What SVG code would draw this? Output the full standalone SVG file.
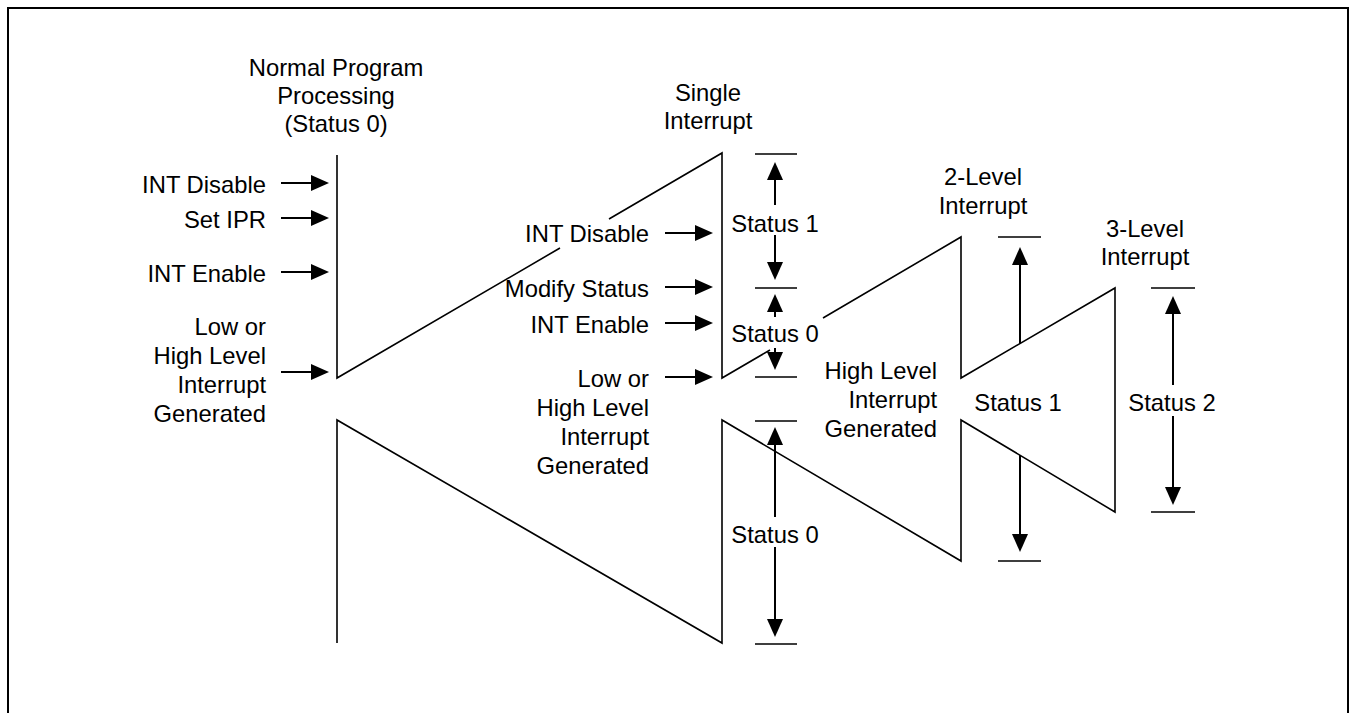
<svg xmlns="http://www.w3.org/2000/svg" width="1351" height="713" viewBox="0 0 1351 713">
<style>
.t{font-family:"Liberation Sans",Arial,sans-serif;font-size:23.8px;fill:#000}
.e{text-anchor:end}
.m{text-anchor:middle}
.w{fill:none;stroke:#000;stroke-width:1.6}
.a{fill:none;stroke:#000;stroke-width:2;marker-end:url(#ah)}
.b{stroke:#000;stroke-width:1.6}
</style>
<defs>
<marker id="ah" viewBox="0 0 18 16" refX="14" refY="8" markerWidth="18" markerHeight="16" markerUnits="userSpaceOnUse" orient="auto">
<path d="M0,0 L18,8 L0,16 Z" fill="#000"/>
</marker>
</defs>
<rect width="1351" height="713" fill="#fff"/>
<rect x="8" y="8" width="1340" height="720" fill="none" stroke="#000" stroke-width="2"/>

<g id="waveform-upper">
<path class="w" d="M337,155 V378 L560,248 M609,219 L722,153 V378 L770,350 M823,318 L961,237 V378 L1115,288 V512 L961,420 V561 L722,420 V643 L337,420 V643"/>
</g>

<g id="title-normal"><text class="t m" x="336" y="76">Normal Program</text><text class="t m" x="336" y="104">Processing</text><text class="t m" x="336" y="132">(Status 0)</text></g>
<g id="title-single"><text class="t m" x="708" y="101">Single</text><text class="t m" x="708" y="129">Interrupt</text></g>
<g id="title-2level"><text class="t m" x="983" y="185">2-Level</text><text class="t m" x="983" y="214">Interrupt</text></g>
<g id="title-3level"><text class="t m" x="1145" y="237">3-Level</text><text class="t m" x="1145" y="265">Interrupt</text></g>

<g id="labels-left">
<text class="t e" x="266" y="193">INT Disable</text>
<text class="t e" x="266" y="228">Set IPR</text>
<text class="t e" x="266" y="282">INT Enable</text>
<text class="t e" x="266" y="335">Low or</text>
<text class="t e" x="266" y="364">High Level</text>
<text class="t e" x="266" y="393">Interrupt</text>
<text class="t e" x="266" y="422">Generated</text>
</g>
<g id="labels-single">
<text class="t e" x="649" y="242">INT Disable</text>
<text class="t e" x="649" y="297">Modify Status</text>
<text class="t e" x="649" y="333">INT Enable</text>
<text class="t e" x="649" y="387">Low or</text>
<text class="t e" x="649" y="416">High Level</text>
<text class="t e" x="649" y="445">Interrupt</text>
<text class="t e" x="649" y="474">Generated</text>
</g>
<g id="labels-high">
<text class="t e" x="937" y="379">High Level</text>
<text class="t e" x="937" y="408">Interrupt</text>
<text class="t e" x="937" y="437">Generated</text>
</g>
<g id="status-labels">
<text class="t m" x="775" y="232">Status 1</text>
<text class="t m" x="775" y="342">Status 0</text>
<text class="t m" x="775" y="543">Status 0</text>
<text class="t m" x="1018" y="411">Status 1</text>
<text class="t m" x="1172" y="411">Status 2</text>
</g>

<g id="bars">
<path class="b" d="M755,154 H797 M755,288 H797 M755,377 H797 M755,421 H797 M755,644 H797 M998,237 H1041 M998,561 H1041 M1151,288 H1195 M1151,512 H1195"/>
</g>

<g id="connectors">
<line class="a" x1="281" y1="183" x2="325" y2="183"/>
<line class="a" x1="281" y1="218" x2="325" y2="218"/>
<line class="a" x1="281" y1="272" x2="325" y2="272"/>
<line class="a" x1="281" y1="372" x2="325" y2="372"/>
<line class="a" x1="665" y1="233" x2="709" y2="233"/>
<line class="a" x1="665" y1="287" x2="709" y2="287"/>
<line class="a" x1="665" y1="323" x2="709" y2="323"/>
<line class="a" x1="665" y1="377" x2="709" y2="377"/>
<line class="a" x1="775" y1="205" x2="775" y2="166"/>
<line class="a" x1="775" y1="235" x2="775" y2="276"/>
<line class="a" x1="775" y1="317" x2="775" y2="298"/>
<line class="a" x1="775" y1="348" x2="775" y2="366"/>
<line class="a" x1="775" y1="517" x2="775" y2="431"/>
<line class="a" x1="775" y1="547" x2="775" y2="633"/>
<line class="a" x1="1020" y1="344" x2="1020" y2="251"/>
<line class="a" x1="1020" y1="455" x2="1020" y2="548"/>
<line class="a" x1="1173" y1="385" x2="1173" y2="300"/>
<line class="a" x1="1173" y1="416" x2="1173" y2="501"/>
</g>
</svg>
